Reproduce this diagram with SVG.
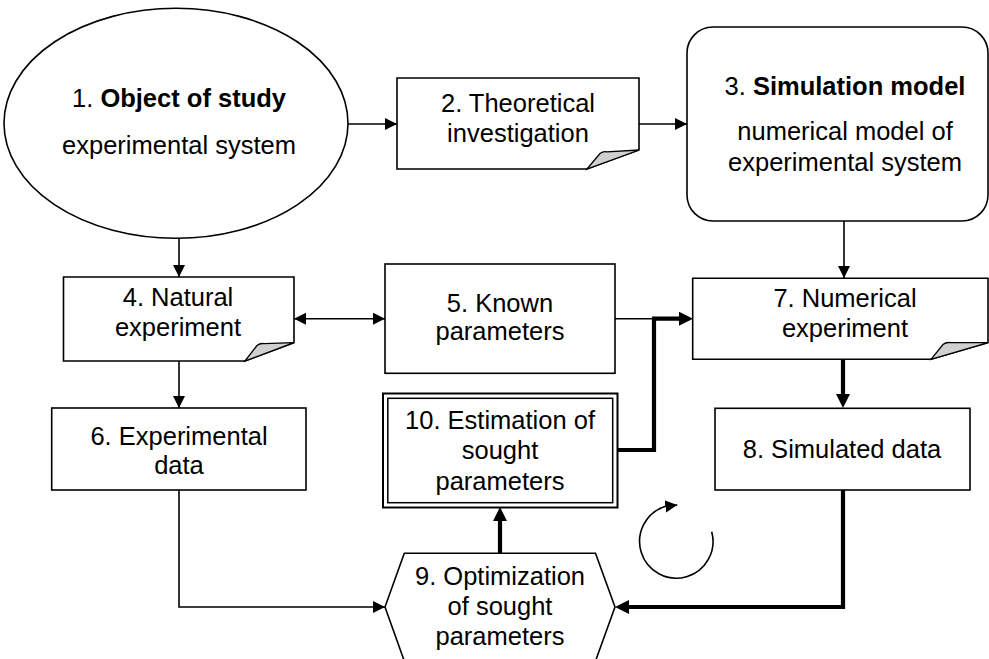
<svg xmlns="http://www.w3.org/2000/svg" width="989" height="659" viewBox="0 0 989 659">
<style>
.shape{fill:#fff;stroke:#000;stroke-width:1.6}
.fold{fill:#d0d0d0;stroke:#000;stroke-width:1.3}
.t{font-family:"Liberation Sans",Arial,sans-serif;font-size:25.5px;fill:#000;text-anchor:middle}
.b{font-weight:bold}
.thin{fill:none;stroke:#000;stroke-width:1.6}
.thick{fill:none;stroke:#000;stroke-width:4.2;stroke-linejoin:miter}
</style>
<defs>
<marker id="a" markerUnits="userSpaceOnUse" markerWidth="13" markerHeight="13" refX="12" refY="6" orient="auto-start-reverse">
<path d="M0,0 L12,6 L0,12 Z" fill="#000"/>
</marker>
<marker id="A" markerUnits="userSpaceOnUse" markerWidth="15" markerHeight="15" refX="8" refY="7" orient="auto">
<path d="M0,0 L14,7 L0,14 Z" fill="#000"/>
</marker>
</defs>
<rect width="989" height="659" fill="#fff"/>

<g id="connectors">
<path class="thin" d="M348,124 H397" marker-end="url(#a)"/>
<path class="thin" d="M639,124 H687" marker-end="url(#a)"/>
<path class="thin" d="M179,238.5 V277" marker-end="url(#a)"/>
<path class="thin" d="M179,361 V408" marker-end="url(#a)"/>
<path class="thin" d="M294,318.7 H385" marker-start="url(#a)" marker-end="url(#a)"/>
<path class="thin" d="M615,318.7 H654"/>
<path class="thick" d="M617,450 H654 V318.7 H687" marker-end="url(#A)"/>
<path class="thin" d="M844,221 V278" marker-end="url(#a)"/>
<path class="thick" d="M843,359 V402" marker-end="url(#A)"/>
<path class="thick" d="M843,490 V607 H621" marker-end="url(#A)"/>
<path class="thin" d="M179,490 V607 H385" marker-end="url(#a)"/>
<path class="thick" d="M500,553 V513" marker-end="url(#A)"/>
<path class="thin" d="M711.7,531.7 A36.7,36.7 0 1 1 665,506.5 L677.3,505" marker-end="url(#a)"/>
</g>

<g id="n1">
<ellipse class="shape" cx="176" cy="123.3" rx="172" ry="115"/>
<text class="t" x="179" y="107">1. <tspan class="b">Object of study</tspan></text>
<text class="t" x="179" y="154">experimental system</text>
</g>

<g id="n2">
<path class="shape" d="M397,78 H639 V150 L587,169 H397 Z"/>
<path class="fold" d="M587,169 L600,153.5 Q603,151 607,151.8 L639,150 Z"/>
<text class="t" x="518" y="112">2. Theoretical</text>
<text class="t" x="518" y="142">investigation</text>
</g>

<g id="n3">
<rect class="shape" x="687" y="27" width="301" height="194" rx="26" ry="26"/>
<text class="t" x="845" y="95">3. <tspan class="b">Simulation model</tspan></text>
<text class="t" x="845" y="140">numerical model of</text>
<text class="t" x="845" y="171">experimental system</text>
</g>

<g id="n4">
<path class="shape" d="M63.5,277 H294 V342.7 L245,361 H63.5 Z"/>
<path class="fold" d="M245,361 L257,345.5 Q260,343 264,343.6 L294,342.7 Z"/>
<text class="t" x="178" y="306">4. Natural</text>
<text class="t" x="178" y="336">experiment</text>
</g>

<g id="n5">
<rect class="shape" x="385" y="264" width="230" height="109.3"/>
<text class="t" x="500" y="311.5">5. Known</text>
<text class="t" x="500" y="340">parameters</text>
</g>

<g id="n6">
<rect class="shape" x="51.7" y="408" width="254.3" height="82"/>
<text class="t" x="179" y="445">6. Experimental</text>
<text class="t" x="179" y="474">data</text>
</g>

<g id="n7">
<path class="shape" d="M692.7,278.3 H988 V342.7 L931,359.3 H692.7 Z"/>
<path class="fold" d="M931,359.3 L943,344.5 Q946,342 950,342.6 L988,342.7 Z"/>
<text class="t" x="845" y="307.3">7. Numerical</text>
<text class="t" x="845" y="337.3">experiment</text>
</g>

<g id="n8">
<rect class="shape" x="715" y="408.3" width="255" height="81.7"/>
<text class="t" x="842" y="458.3">8. Simulated data</text>
</g>

<g id="n9">
<path class="shape" d="M385,607 L404.3,553.3 H595.5 L615,607 L595.5,661 H404.3 Z"/>
<text class="t" x="500" y="585">9. Optimization</text>
<text class="t" x="500" y="615">of sought</text>
<text class="t" x="500" y="645">parameters</text>
</g>

<g id="n10">
<rect x="383" y="393.5" width="234.5" height="114" fill="#fff" stroke="#000" stroke-width="2"/>
<rect x="387.8" y="398.3" width="224.9" height="104.4" fill="none" stroke="#000" stroke-width="1.5"/>
<text class="t" x="500" y="429">10. Estimation of</text>
<text class="t" x="500" y="459">sought</text>
<text class="t" x="500" y="490">parameters</text>
</g>
</svg>
